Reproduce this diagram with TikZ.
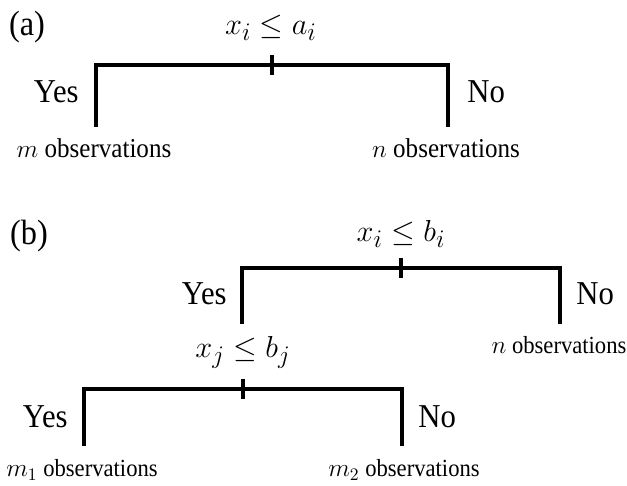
\documentclass[tikz,border=0pt]{standalone}
\usepackage{amsmath}
\usepackage{fontspec}
\setmainfont{Liberation Serif}[FakeStretch=0.92]
\usepackage{tikz}
\usetikzlibrary{positioning}

\begin{document}
\begin{tikzpicture}[x=0.02cm,y=-0.02cm,
    branch/.style={line width=2.3pt,line cap=butt,line join=miter},
    tickmark/.style={line width=1.8pt},
    panel/.style={font=\fontsize{20}{24}\selectfont},
    split/.style={font=\fontsize{19}{22}\selectfont},
    answer/.style={font=\fontsize{19}{22}\selectfont,inner sep=0pt},
    leaf/.style={font=\fontsize{15.5}{18}\selectfont,inner sep=0pt},
    smallleaf/.style={font=\fontsize{14}{17}\selectfont,inner sep=0pt}]
      \useasboundingbox (0,0) rectangle (627,486);

      % (a)
      \node[panel] (pa) at (27,27) {(a)};
      \node[split] (sa) at (271,28) {$x_i \leq a_i$};
      \coordinate (ta) at (272,65);
      \coordinate (la) at (96,127);
      \coordinate (ra) at (448,127);
      \draw[branch] (la) |- (ta) -| (ra);
      \draw[tickmark] (ta) ++(0,-10) -- ++(0,20);
      \node[answer, anchor=east] (ya) at (79,92) {Yes};
      \node[answer, anchor=west] (na) at (467,92) {No};
      \node[leaf] (ma) at (94,148) {$m$ observations};
      \node[leaf] (nb) at (446,148) {$n$ observations};

      % (b)
      \node[panel] (pb) at (29,236) {(b)};
      \node[split] (sb) at (401,234) {$x_i \leq b_i$};
      \coordinate (tb) at (401,268);
      \coordinate (lb) at (242,324);
      \coordinate (rb) at (560,324);
      \draw[branch] (lb) |- (tb) -| (rb);
      \draw[tickmark] (tb) ++(0,-10) -- ++(0,20);
      \node[answer, anchor=east] (yb) at (227,294) {Yes};
      \node[answer, anchor=west] (nob) at (576,294) {No};
      \node[smallleaf] (nc) at (559,345) {$n$ observations};

      \node[split] (sc) at (243,352) {$x_j \leq b_j$};
      \coordinate (tc) at (243,389);
      \coordinate (lc) at (84,446);
      \coordinate (rc) at (402,446);
      \draw[branch] (lc) |- (tc) -| (rc);
      \draw[tickmark] (tc) ++(0,-10) -- ++(0,20);
      \node[answer, anchor=east] (yc) at (68,417) {Yes};
      \node[answer, anchor=west] (noc) at (418,417) {No};
      \node[smallleaf] (m1) at (82,470) {$m_1$ observations};
      \node[smallleaf] (m2) at (404,470) {$m_2$ observations};
    \end{tikzpicture}
\end{document}
